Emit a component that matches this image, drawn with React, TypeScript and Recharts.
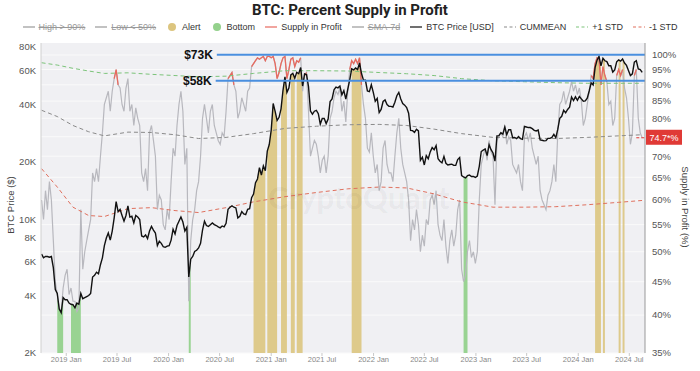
import React from 'react';
import {
  ComposedChart,
  Line,
  Area,
  XAxis,
  YAxis,
  CartesianGrid,
  ReferenceLine,
} from 'recharts';

// weekly samples (Fridays), first one is 2018-10-05
const START = Date.UTC(2018, 9, 5);
const WEEK = 7 * 86400000;
const X_MIN = Date.UTC(2018, 9, 3);
const X_MAX = Date.UTC(2024, 7, 26);

const price2018 = [6600, 6300, 6400, 6400, 6350, 6400, 5600, 4300, 4100, 3400, 3250, 3900, 3800];
const price2019 = [
  3800, 3650, 3600, 3580, 3450, 3650, 3600, 4100, 3850, 3900, 3950, 4000, 4100, 5000, 5100, 5300, 5200,
  5800, 6300, 7300, 8000, 8500, 7800, 8700, 10200, 12400, 11000, 11300, 10500, 9800, 10500, 11800, 10300,
  10400, 9600, 10500, 10300, 10000, 8200, 8100, 8300, 7950, 8700, 9200, 8800, 8500, 7300, 7700, 7500,
  7200, 7150, 7250,
];
const price2020 = [
  7300, 7800, 8900, 8400, 9300, 9800, 10300, 9700, 8700, 9100, 5000, 6200, 6400, 6800, 6900, 7100, 7500,
  8800, 9800, 9300, 9200, 9400, 9600, 9400, 9300, 9150, 9050, 9250, 9150, 9550, 11300, 11600, 11800,
  11600, 11500, 10200, 10400, 11000, 10700, 10600, 11300, 11400, 13000, 13600, 15600, 16300, 18700,
  17100, 19100, 18000, 22800, 24700,
];
const price2021 = [
  29400, 40500, 36800, 33000, 34300, 38000, 47500, 55900, 46300, 48800, 57200, 58300, 55000, 59000,
  58000, 62500, 50000, 57800, 57400, 49700, 37000, 35600, 36900, 37300, 35800, 31600, 33800, 33800,
  31800, 33600, 41500, 42800, 47800, 49300, 48900, 50000, 45000, 47300, 42700, 48100, 53900, 61500,
  60700, 62200, 61000, 66000, 58100, 53700, 53600, 47100, 46700, 50800, 46300,
];
const price2022 = [
  41600, 43100, 36300, 37700, 41500, 42300, 40000, 39200, 39100, 38800, 41100, 44500, 46300, 42800,
  40500, 39700, 38600, 36000, 29300, 29200, 28600, 29700, 29100, 20400, 21200, 19300, 21600, 20800,
  22600, 23800, 23200, 24400, 20800, 20200, 19800, 21400, 19700, 19300, 19400, 19500, 19200, 19200,
  20600, 21100, 17000, 16700, 16500, 17000, 17100, 16800, 16800, 16600,
];
const price2023 = [
  16900, 19000, 22700, 23100, 23400, 21600, 24600, 23200, 22300, 20200, 27400, 27500, 28500, 28000,
  30500, 27800, 29500, 29500, 26800, 26900, 26500, 27200, 26500, 26300, 30700, 30500, 30300, 30300,
  29900, 29300, 29100, 29400, 26100, 26000, 25800, 25900, 26600, 26600, 26900, 27900, 26800, 29700,
  33900, 34700, 37300, 36200, 37700, 38700, 43800, 42000, 43900, 42100,
];
const price2024 = [
  44100, 42800, 41600, 41800, 43200, 47100, 51900, 50700, 62400, 68300, 71500, 63800, 69900, 67800,
  67100, 63800, 63800, 59100, 60800, 67000, 68500, 67500, 69300, 66000, 64100, 60300, 56700, 57900,
  66700, 67900, 61400, 60900, 58900,
];

const supply2018 = [60, 56, 62, 58, 64, 60, 52, 45, 43, 41, 40.5, 44, 46];
const supply2019 = [
  47, 43, 44, 42, 42, 40.5, 41, 58, 47, 50, 52, 54, 56, 66, 64, 67, 64, 70, 76, 84, 86, 88, 82, 88, 92,
  95, 90, 89, 84, 82, 89, 92, 82, 84, 78, 83, 80, 78, 66, 64, 67, 62, 76, 78, 74, 70, 58, 61, 60, 55, 54,
  58,
];
const supply2020 = [
  56, 64, 72, 70, 78, 84, 88, 82, 68, 72, 42, 52, 56, 58, 62, 64, 70, 80, 84, 80, 76, 82, 84, 78, 76, 74,
  73, 76, 75, 82, 92, 93, 94, 90, 88, 80, 82, 86, 84, 82, 88, 89, 96, 97, 98, 99, 98.5, 99, 99.5, 98,
  99.5, 99.5,
];
const supply2021 = [
  99, 99.5, 97, 92, 94, 97, 99, 99.5, 92, 95, 98.5, 99, 96, 98, 97.5, 99, 88, 93, 94, 82, 70, 72, 74, 73,
  70, 66, 69, 70, 66, 70, 80, 82, 86, 88, 87, 89, 82, 85, 79, 88, 95, 98, 97, 98.5, 97, 99, 90, 84, 80,
  72, 71, 76, 70,
];
const supply2022 = [
  66, 68, 62, 64, 72, 74, 68, 66, 66, 64, 70, 76, 80, 72, 68, 66, 64, 60, 52, 56, 54, 58, 55, 50, 53, 51,
  56, 55, 60, 61, 59, 62, 55, 53, 52, 56, 51, 48, 52, 54, 51, 53, 58, 60, 47, 45, 46, 50, 52, 49, 50, 48,
];
const supply2023 = [
  50, 60, 68, 70, 72, 69, 74, 71, 70, 59, 74, 75, 76, 75, 78, 73, 75, 74, 68, 67, 66, 68, 64, 62, 75, 76,
  74, 76, 72, 70, 68, 70, 62, 60, 59, 58, 61, 62, 64, 68, 64, 76, 84, 85, 88, 84, 86, 88, 91, 88, 90, 87,
];
const supply2024 = [
  89, 85, 78, 80, 84, 88, 93, 92, 97, 99, 98.5, 90, 96, 93, 91, 84, 85, 78, 80, 93, 95, 93, 95, 89, 86,
  80, 73, 76, 93, 95, 80, 76, 74.7,
];

// smooth bands, read at a few dates
const bandDates = [
  '2018-10-05', '2018-11-30', '2019-01-25', '2019-03-22', '2019-05-17', '2019-08-09', '2019-11-01',
  '2020-01-24', '2020-04-17', '2020-07-24', '2020-10-30', '2021-02-19', '2021-06-11', '2021-10-01',
  '2022-01-21', '2022-04-29', '2022-08-05', '2022-11-11', '2023-03-03', '2023-06-23', '2023-10-13',
  '2024-02-02', '2024-05-24', '2024-08-16',
];
const cumMean = [
  82.3, 80.5, 78, 76.3, 75.2, 76.2, 76.1, 75.5, 74.5, 74.8, 75.8, 77.2, 77.8, 78.2, 78.3, 78, 77, 75.8,
  74.8, 74.6, 74.5, 74.8, 75.2, 75.5,
];
const plusStd = [
  97.3, 96.5, 95.4, 94.5, 93.7, 93.9, 93.4, 93, 92.6, 92.8, 93.7, 94.6, 94.6, 94.5, 94, 93.6, 93, 92,
  91.3, 91, 90.7, 90.5, 90.5, 90.5,
];
const minusStd = [
  67, 62.8, 58.5, 56.8, 56.6, 58.2, 58.4, 57.8, 57.4, 58.4, 59.6, 60.7, 61.6, 62.4, 62.8, 62.6, 61.3,
  59.6, 58.5, 58.5, 58.6, 59, 59.5, 59.9,
];

// alert / bottom periods (two alert keys so that touching blocks keep a gap)
const alertRanges = [
  ['2020-10-30', '2020-12-11'], ['2021-02-05', '2021-02-26'], ['2021-04-02', '2021-04-23'],
  ['2021-10-15', '2021-11-19'], ['2024-03-01', '2024-03-22'], ['2024-05-24', '2024-05-31'],
];
const alertRanges2 = [
  ['2020-12-18', '2021-01-22'], ['2021-03-12', '2021-03-26'], ['2024-03-29', '2024-04-05'],
  ['2024-06-07', '2024-06-14'],
];
const bottomRanges = [
  ['2018-11-30', '2018-12-21'], ['2019-01-18', '2019-02-22'], ['2020-03-13', '2020-03-20'],
  ['2022-11-18', '2022-12-02'],
];

const xTickDates = [
  '2019-01-01', '2019-07-01', '2020-01-01', '2020-07-01', '2021-01-01', '2021-07-01',
  '2022-01-01', '2022-07-01', '2023-01-01', '2023-07-01', '2024-01-01', '2024-07-01',
];
const xTickLabels = [
  '2019 Jan', '2019 Jul', '2020 Jan', '2020 Jul', '2021 Jan', '2021 Jul',
  '2022 Jan', '2022 Jul', '2023 Jan', '2023 Jul', '2024 Jan', '2024 Jul',
];
const priceTicks = [2000, 4000, 6000, 8000, 10000, 20000, 40000, 60000, 80000];
const pctTicks = [35, 40, 45, 50, 55, 60, 65, 70, 75, 80, 85, 90, 95, 100];

const levelLines = [
  { label: '$73K', value: 73000, from: '2020-06-21' },
  { label: '$58K', value: 53300, from: '2020-06-17' },
];

const prices = [...price2018, ...price2019, ...price2020, ...price2021, ...price2022, ...price2023, ...price2024];
const supply = [
  ...supply2018, ...supply2019, ...supply2020, ...supply2021, ...supply2022, ...supply2023, ...supply2024,
];

const toWeek = (d: string) => Math.round((Date.parse(d) - START) / WEEK);
const inRanges = (w: number, ranges: string[][]) =>
  ranges.some(([a, b]) => w >= toWeek(a) && w <= toWeek(b));
const bandIndex = new Map(bandDates.map((d, i) => [toWeek(d), i]));

const data = prices.map((p, w) => {
  const s = supply[w];
  const b = bandIndex.get(w);
  return {
    t: START + w * WEEK,
    price: p,
    supply: s,
    high: s >= 90 ? s : null,
    alert: inRanges(w, alertRanges) ? p : null,
    alert2: inRanges(w, alertRanges2) ? p : null,
    bottom: inRanges(w, bottomRanges) ? p : null,
    mean: b !== undefined ? cumMean[b] : null,
    plus: b !== undefined ? plusStd[b] : null,
    minus: b !== undefined ? minusStd[b] : null,
  };
});

const lastT = data[data.length - 1].t;
const lastSupply = supply[supply.length - 1];
const xTicks = xTickDates.map((d) => Date.parse(d));

const C = {
  price: '#111111',
  supply: '#b8b8be',
  high: '#e86a5f',
  mean: '#8a8a8a',
  plus: '#7cc47a',
  minus: '#e0705e',
  alert: '#dcc57f',
  bottom: '#94d18c',
  blue: '#4a8fdf',
  tag: '#e03a36',
};

const legendItems = [
  { name: 'High > 90%', kind: 'line', color: '#9a9a9a', off: true },
  { name: 'Low < 50%', kind: 'line', color: '#9a9a9a', off: true },
  { name: 'Alert', kind: 'dot', color: C.alert },
  { name: 'Bottom', kind: 'dot', color: C.bottom },
  { name: 'Supply in Profit', kind: 'line', color: C.high },
  { name: 'SMA-7d', kind: 'line', color: '#9a9a9a', off: true },
  { name: 'BTC Price [USD]', kind: 'line', color: C.price },
  { name: 'CUMMEAN', kind: 'dash', color: C.mean },
  { name: '+1 STD', kind: 'dash', color: C.plus },
  { name: '-1 STD', kind: 'dash', color: C.minus },
];

const Marker = ({ kind, color }: { kind: string; color: string }) => (
  <svg width={12} height={8} style={{ marginRight: 4 }}>
    {kind === 'dot' && <circle cx={6} cy={4} r={4} fill={color} />}
    {kind === 'line' && <line x1={0} x2={12} y1={4} y2={4} stroke={color} strokeWidth={1.2} />}
    {kind === 'dash' && (
      <line x1={0} x2={12} y1={4} y2={4} stroke={color} strokeWidth={1.2} strokeDasharray="3 2.5" />
    )}
  </svg>
);

const LevelLabel = ({ viewBox, text }: any) => (
  <text
    x={viewBox.x - 4}
    y={viewBox.y + 4}
    textAnchor="end"
    fontSize={12}
    fontWeight={700}
    fill="#111"
  >
    {text}
  </text>
);

const LastTag = ({ viewBox }: any) => {
  const x = viewBox.x + viewBox.width;
  const y = viewBox.y;
  return (
    <g>
      <rect x={x + 1} y={y - 8} width={36} height={15} fill={C.tag} />
      <text x={x + 19} y={y + 3} textAnchor="middle" fontSize={9} fill="#fff">
        {`${lastSupply}*%`}
      </text>
    </g>
  );
};

const fmtPrice = (v: number) => `${v / 1000}K`;
const fmtDate = (v: number) => xTickLabels[xTicks.indexOf(v)] ?? '';

const axisTitle = (text: string, left: number, top: number, deg: number) => (
  <div
    style={{
      position: 'absolute',
      left,
      top,
      width: 0,
      height: 0,
      pointerEvents: 'none',
    }}
  >
    <div
      style={{
        position: 'absolute',
        transform: `translate(-50%, -50%) rotate(${deg}deg)`,
        whiteSpace: 'nowrap',
        fontSize: 9.5,
        color: '#444',
      }}
    >
      {text}
    </div>
  </div>
);

export default function App() {
  return (
    <div
      style={{
        position: 'absolute',
        left: 0,
        top: 0,
        width: 700,
        height: 371,
        background: '#fff',
        fontFamily: '"Liberation Sans", Arial, sans-serif',
      }}
    >
      <div
        style={{
          position: 'absolute',
          top: 1,
          left: 0,
          width: 700,
          textAlign: 'center',
          fontFamily: 'Roboto, sans-serif',
          fontWeight: 700,
          fontSize: 15,
          color: '#222',
        }}
      >
        BTC: Percent Supply in Profit
      </div>
      <div
        style={{
          position: 'absolute',
          top: 21,
          left: 0,
          width: 700,
          height: 12,
          display: 'flex',
          justifyContent: 'center',
          alignItems: 'center',
          gap: 10,
          fontSize: 9,
          color: '#333',
        }}
      >
        {legendItems.map((it) => (
          <div key={it.name} style={{ display: 'flex', alignItems: 'center' }}>
            <Marker kind={it.kind} color={it.color} />
            <span
              style={{
                textDecoration: it.off ? 'line-through' : 'none',
                color: it.off ? '#999' : '#333',
                whiteSpace: 'pre',
              }}
            >
              {it.name}
            </span>
          </div>
        ))}
      </div>
      <div style={{ position: 'absolute', left: 0, top: 0 }}>
        <ComposedChart width={700} height={371} data={data} margin={{ top: 43, right: 0, bottom: 2, left: 0 }}>
          <CartesianGrid
            yAxisId="right"
            vertical={false}
            fill="#f0f0f3"
            stroke="#fafafa"
            horizontalValues={pctTicks}
          />
          <XAxis
            dataKey="t"
            type="number"
            domain={[X_MIN, X_MAX]}
            ticks={xTicks}
            interval={0}
            tickFormatter={fmtDate}
            allowDataOverflow
            height={16}
            axisLine={false}
            tickSize={3}
            tickMargin={1}
            tickLine={{ stroke: '#c8c8c8' }}
            tick={{ fontSize: 7.5, fill: '#888' }}
          />
          <YAxis
            yAxisId="left"
            scale="log"
            domain={[2000, 84000]}
            ticks={priceTicks}
            interval={0}
            tickFormatter={fmtPrice}
            allowDataOverflow
            width={41}
            tickLine={false}
            tickSize={3}
            tickMargin={2}
            axisLine={{ stroke: '#d0d0d0' }}
            tick={{ fontSize: 9.5, fill: '#555' }}
          />
          <YAxis
            yAxisId="right"
            orientation="right"
            scale="log"
            domain={[35, 104.3]}
            ticks={pctTicks.filter((v) => v !== 75)}
            interval={0}
            tickFormatter={(v: number) => `${v}%`}
            allowDataOverflow
            width={55}
            tickLine={false}
            tickSize={5}
            tickMargin={2}
            axisLine={{ stroke: '#999' }}
            tick={{ fontSize: 9.5, fill: '#555' }}
          />
          <Area
            yAxisId="left"
            dataKey="alert"
            type="linear"
            stroke="none"
            fill={C.alert}
            fillOpacity={0.9}
            baseValue={2000}
            isAnimationActive={false}
          />
          <Area
            yAxisId="left"
            dataKey="alert2"
            type="linear"
            stroke="none"
            fill={C.alert}
            fillOpacity={0.9}
            baseValue={2000}
            isAnimationActive={false}
          />
          <Area
            yAxisId="left"
            dataKey="bottom"
            type="linear"
            stroke="none"
            fill={C.bottom}
            fillOpacity={0.95}
            baseValue={2000}
            isAnimationActive={false}
          />
          <Line
            yAxisId="right"
            dataKey="supply"
            stroke={C.supply}
            strokeWidth={1.2}
            dot={false}
            isAnimationActive={false}
          />
          <Line
            yAxisId="right"
            dataKey="high"
            stroke={C.high}
            strokeWidth={1.3}
            dot={false}
            isAnimationActive={false}
          />
          <Line
            yAxisId="right"
            dataKey="mean"
            stroke={C.mean}
            strokeWidth={1}
            strokeDasharray="4 3"
            dot={false}
            connectNulls
            isAnimationActive={false}
          />
          <Line
            yAxisId="right"
            dataKey="plus"
            stroke={C.plus}
            strokeWidth={1}
            strokeDasharray="4 3"
            dot={false}
            connectNulls
            isAnimationActive={false}
          />
          <Line
            yAxisId="right"
            dataKey="minus"
            stroke={C.minus}
            strokeWidth={1}
            strokeDasharray="4 3"
            dot={false}
            connectNulls
            isAnimationActive={false}
          />
          <Line
            yAxisId="left"
            dataKey="price"
            stroke={C.price}
            strokeWidth={1.4}
            dot={false}
            isAnimationActive={false}
          />
          {levelLines.map((l) => (
            <ReferenceLine
              key={l.label}
              yAxisId="left"
              segment={[
                { x: Date.parse(l.from), y: l.value },
                { x: X_MAX, y: l.value },
              ]}
              stroke={C.blue}
              strokeWidth={2}
              label={(p: any) => <LevelLabel {...p} text={l.label} />}
            />
          ))}
          <ReferenceLine
            yAxisId="right"
            segment={[
              { x: lastT - 3 * WEEK, y: lastSupply },
              { x: X_MAX, y: lastSupply },
            ]}
            stroke={C.tag}
            strokeWidth={1}
            strokeDasharray="3 2"
            label={(p: any) => <LastTag {...p} />}
          />
        </ComposedChart>
      </div>
      {axisTitle('BTC Price ($)', 10, 205, -90)}
      {axisTitle('Supply in Profit (%)', 685, 207, 90)}
      <div
        style={{
          position: 'absolute',
          left: 268,
          top: 178,
          fontFamily: 'Lato, sans-serif',
          fontWeight: 700,
          fontSize: 31,
          color: 'rgba(0,0,0,0.05)',
          pointerEvents: 'none',
        }}
      >
        CryptoQuant
      </div>
    </div>
  );
}
